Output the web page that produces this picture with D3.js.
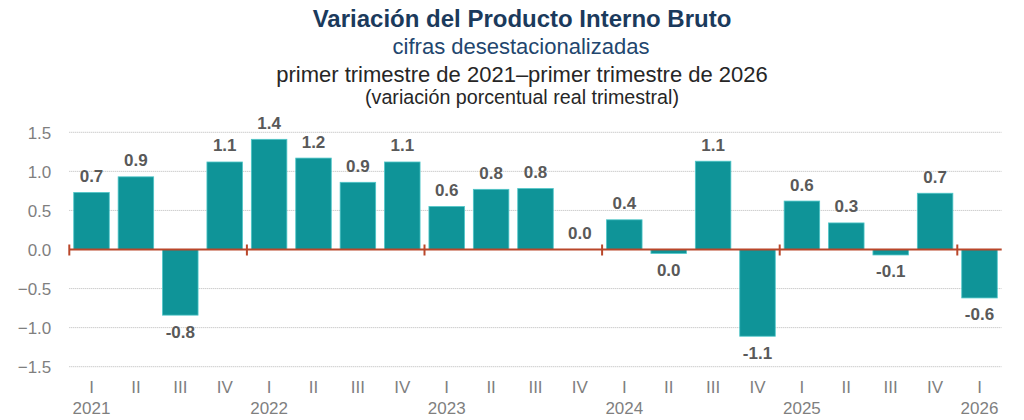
<!DOCTYPE html>
<html>
<head>
<meta charset="utf-8">
<script src="https://cdn.jsdelivr.net/npm/d3@7"></script>
<style>
  body { margin: 0; background: #fff; }
  svg { display: block; font-family: "Liberation Sans", Arial, sans-serif; }
</style>
</head>
<body>
<div id="chart"></div>
<script>
const quarters = ["I", "II", "III", "IV",
                  "I", "II", "III", "IV",
                  "I", "II", "III", "IV",
                  "I", "II", "III", "IV",
                  "I", "II", "III", "IV",
                  "I"];
const years = ["2021", "2022", "2023", "2024", "2025", "2026"];
const values = [0.73, 0.93, -0.84, 1.12,
                1.41, 1.17, 0.86, 1.12,
                0.55, 0.77, 0.78, 0.0,
                0.38, -0.05, 1.13, -1.11,
                0.62, 0.34, -0.07, 0.72,
                -0.62];
const labels = ["0.7", "0.9", "-0.8", "1.1",
                "1.4", "1.2", "0.9", "1.1",
                "0.6", "0.8", "0.8", "0.0",
                "0.4", "0.0", "1.1", "-1.1",
                "0.6", "0.3", "-0.1", "0.7",
                "-0.6"];
const yTicks = [-1.5, -1.0, -0.5, 0.0, 0.5, 1.0, 1.5];

const width = 1024, height = 420;
const margin = {top: 132.3, right: 22.3, bottom: 53.3, left: 69.3};

const data = values.map((v, i) => ({i: i, q: quarters[i], v: v, label: labels[i]}));

const svg = d3.select("#chart").append("svg")
  .attr("width", width)
  .attr("height", height);

// titles
const cx = 522;
svg.append("text")
  .attr("x", cx).attr("y", 26.7)
  .attr("text-anchor", "middle")
  .style("font-size", "24px").style("font-weight", "bold")
  .style("fill", "#1b3a5c")
  .text("Variación del Producto Interno Bruto");
svg.append("text")
  .attr("x", 521).attr("y", 54)
  .attr("text-anchor", "middle")
  .style("font-size", "22px")
  .style("fill", "#22466e")
  .text("cifras desestacionalizadas");
svg.append("text")
  .attr("x", cx).attr("y", 81.5)
  .attr("text-anchor", "middle")
  .style("font-size", "22px")
  .style("fill", "#262626")
  .text("primer trimestre de 2021–primer trimestre de 2026");
svg.append("text")
  .attr("x", cx).attr("y", 104)
  .attr("text-anchor", "middle")
  .style("font-size", "19.7px")
  .style("fill", "#262626")
  .text("(variación porcentual real trimestral)");

const x = d3.scaleBand()
  .domain(d3.range(values.length))
  .range([margin.left, width - margin.right])
  .paddingInner(0.2)
  .paddingOuter(0.1);

const y = d3.scaleLinear()
  .domain([-1.5, 1.5])
  .range([height - margin.bottom, margin.top]);

const half = (x.step() - x.bandwidth()) / 2;

// grid
svg.append("g")
  .selectAll("line")
  .data(yTicks.filter(d => d !== 0))
  .enter().append("line")
    .attr("x1", margin.left)
    .attr("x2", width - margin.right)
    .attr("y1", d => y(d))
    .attr("y2", d => y(d))
    .attr("stroke", "#b8b8b8")
    .attr("stroke-width", 1)
    .attr("stroke-dasharray", "1,1");

// y axis labels
const yAxis = g => g
  .attr("transform", `translate(${margin.left - 15},0)`)
  .call(d3.axisLeft(y).tickValues(yTicks).tickFormat(d3.format(".1f")).tickSize(0))
  .call(g => g.select(".domain").remove())
  .call(g => g.selectAll("text")
    .attr("dy", "0.36em")
    .style("font-size", "17px")
    .style("font-family", "Liberation Sans, Arial, sans-serif")
    .style("fill", "#7f7f7f"));
svg.append("g").call(yAxis);

// bars
svg.append("g")
  .selectAll("rect")
  .data(data)
  .enter().append("rect")
    .attr("x", d => x(d.i))
    .attr("width", x.bandwidth())
    .attr("y", d => y(Math.max(0, d.v)))
    .attr("height", d => Math.abs(y(d.v) - y(0)))
    .attr("fill", "#0f9498")
    .attr("stroke", "#4fc6c8")
    .attr("stroke-width", 0.8);

// value labels
svg.append("g")
  .selectAll("text")
  .data(data)
  .enter().append("text")
    .attr("x", d => x(d.i) + x.bandwidth() / 2)
    .attr("y", d => d.v >= 0 ? y(d.v) - 10.5 : y(d.v) + 22.5)
    .attr("text-anchor", "middle")
    .style("font-size", "17px")
    .style("font-weight", "bold")
    .style("fill", "#595959")
    .text(d => d.label);

// zero line with year ticks
const zero = y(0);
svg.append("line")
  .attr("x1", margin.left)
  .attr("x2", width - margin.right)
  .attr("y1", zero).attr("y2", zero)
  .attr("stroke", "#b9472a")
  .attr("stroke-width", 2);

svg.append("g")
  .selectAll("line")
  .data(data.filter(d => d.q === "I"))
  .enter().append("line")
    .attr("x1", d => x(d.i) - half)
    .attr("x2", d => x(d.i) - half)
    .attr("y1", zero - 5)
    .attr("y2", zero + 6)
    .attr("stroke", "#b9472a")
    .attr("stroke-width", 2);

// x axis: quarters and years
const xAxis = g => g
  .attr("transform", `translate(0,${height - margin.bottom})`)
  .call(d3.axisBottom(x).tickFormat(i => quarters[i]).tickSize(0))
  .call(g => g.select(".domain").remove())
  .call(g => g.selectAll("text")
    .attr("y", 26)
    .attr("dy", 0)
    .style("font-size", "17px")
    .style("font-family", "Liberation Sans, Arial, sans-serif")
    .style("fill", "#7f7f7f"));
svg.append("g").call(xAxis);

svg.append("g")
  .selectAll("text")
  .data(data.filter(d => d.q === "I"))
  .enter().append("text")
    .attr("x", d => x(d.i) + x.bandwidth() / 2)
    .attr("y", 414)
    .attr("text-anchor", "middle")
    .style("font-size", "17px")
    .style("fill", "#7f7f7f")
    .text((d, k) => years[k]);
</script>
</body>
</html>
